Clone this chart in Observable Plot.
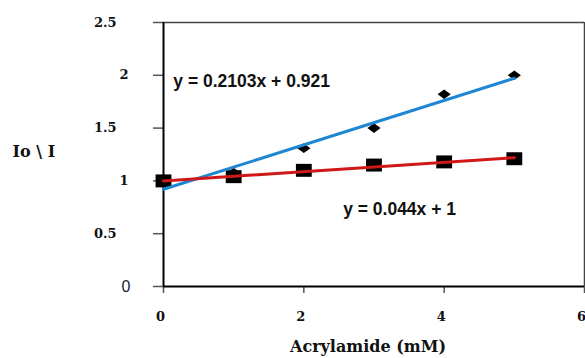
<!DOCTYPE html>
<html>
<head>
<meta charset="utf-8">
<script src="https://cdn.jsdelivr.net/npm/d3@7"></script>
<script src="https://cdn.jsdelivr.net/npm/@observablehq/plot@0.6"></script>
<style>
  html, body { margin: 0; padding: 0; background: #fff; }
  #chart svg { display: block; }
</style>
</head>
<body>
<div id="chart"></div>
<script>
// Stern–Volmer quenching by acrylamide: Io/I versus quencher concentration
const concentration = [0, 1, 2, 3, 4, 5];          // mM
const ratioDiamond  = [1.0, 1.08, 1.31, 1.5, 1.82, 2.0];
const ratioSquare   = [1.0, 1.04, 1.1, 1.15, 1.18, 1.21];

// linear trendlines: y = slope * x + intercept
const fitSlopes     = [0.2103, 0.044];
const fitIntercepts = [0.921, 1];
const fitColors     = ["#1f86d2", "#d01818"];
const fitRange      = [0, 5];

const xTicks = [0, 2, 4, 6];
const yTicks = [0, 0.5, 1, 1.5, 2, 2.5];

const xLabel = "Acrylamide (mM)";
const yLabel = "Io \\ I";

const serif = "'DejaVu Serif', serif";
const sans  = "'Liberation Sans', Arial, sans-serif";
const fmt = d => String(d);

// marker shapes: a flat diamond and a slightly wide square
const flatDiamond = {
  draw(ctx, size) {
    const r = Math.sqrt(size / Math.PI);
    const w = r * 1.1, h = r * 0.8;
    ctx.moveTo(0, -h); ctx.lineTo(w, 0); ctx.lineTo(0, h); ctx.lineTo(-w, 0); ctx.closePath();
  }
};
const wideSquare = {
  draw(ctx, size) {
    const r = Math.sqrt(size / Math.PI);
    const w = r * 1.1, h = r * 0.9;
    ctx.rect(-w, -h, 2 * w, 2 * h);
  }
};

const diamonds = concentration.map((x, i) => ({x, y: ratioDiamond[i]}));
const squares  = concentration.map((x, i) => ({x, y: ratioSquare[i]}));
const fits = fitSlopes.flatMap((m, k) =>
  fitRange.map(x => ({x, y: m * x + fitIntercepts[k], k})));
const eqText = fitSlopes.map((m, k) => `y = ${m}x + ${fitIntercepts[k]}`);

const chart = Plot.plot({
  width: 585,
  height: 358,
  marginLeft: 163,
  marginRight: 1,
  marginTop: 22,
  marginBottom: 72,
  x: {domain: [0, 6]},
  y: {domain: [0, 2.5]},
  marks: [
    // outer frame (top and right)
    Plot.ruleY([2.5], {stroke: "#444", strokeWidth: 1.5}),
    Plot.ruleX([6], {stroke: "#444", strokeWidth: 1.5}),
    // tick marks
    Plot.axisY({ticks: yTicks, tickSize: 10, text: null, stroke: "#555", strokeWidth: 1.5, label: null}),
    Plot.axisX({ticks: xTicks, tickSize: 7, text: null, stroke: "#555", strokeWidth: 1.5, label: null}),
    // tick labels
    Plot.axisY({ticks: [1, 2], tickSize: 0, tickPadding: 35, label: null, tickFormat: fmt,
      fontFamily: serif, fontWeight: "bold", fontSize: 13, fill: "#111"}),
    Plot.axisY({ticks: [0.5, 1.5, 2.5], tickSize: 0, tickPadding: 47, label: null, tickFormat: fmt,
      fontFamily: serif, fontWeight: "bold", fontSize: 13, fill: "#111"}),
    Plot.axisY({ticks: [0], tickSize: 0, tickPadding: 33, label: null, tickFormat: fmt,
      fontFamily: sans, fontSize: 16, fill: "#1a1a3a"}),
    Plot.axisX({ticks: xTicks, tickSize: 0, tickPadding: 25, label: null, dx: -3, tickFormat: fmt,
      fontFamily: serif, fontWeight: "bold", fontSize: 13, fill: "#111"}),
    // axis lines
    Plot.ruleX([0], {stroke: "#000", strokeWidth: 2}),
    Plot.ruleY([0], {stroke: "#000", strokeWidth: 2}),
    // data points
    Plot.dot(diamonds, {x: "x", y: "y", symbol: flatDiamond, r: 6, fill: "#000", stroke: "none"}),
    Plot.dot(squares, {x: "x", y: "y", symbol: wideSquare, r: 7.2, fill: "#000", stroke: "none"}),
    // trendlines
    Plot.line(fits, {x: "x", y: "y", z: "k", stroke: d => fitColors[d.k], strokeWidth: 3}),
    // trendline equations
    Plot.text([eqText[0]], {x: 0.14, y: 1.94, text: d => d, textAnchor: "start",
      fontFamily: sans, fontWeight: "bold", fontSize: 17.5, letterSpacing: 0.6, fill: "#111"}),
    Plot.text([eqText[1]], {x: 2.56, y: 0.73, text: d => d, textAnchor: "start",
      fontFamily: sans, fontWeight: "bold", fontSize: 17.5, letterSpacing: 0.3, fill: "#111"}),
    // axis titles
    Plot.text([yLabel], {frameAnchor: "left", dx: -151, dy: -3, text: d => d, textAnchor: "start",
      fontFamily: serif, fontWeight: "bold", fontSize: 16, fill: "#111"}),
    Plot.text([xLabel], {frameAnchor: "bottom", dx: -6, dy: 65, text: d => d,
      fontFamily: serif, fontWeight: "bold", fontSize: 16, fill: "#111"})
  ]
});

document.getElementById("chart").appendChild(chart);
</script>
</body>
</html>
